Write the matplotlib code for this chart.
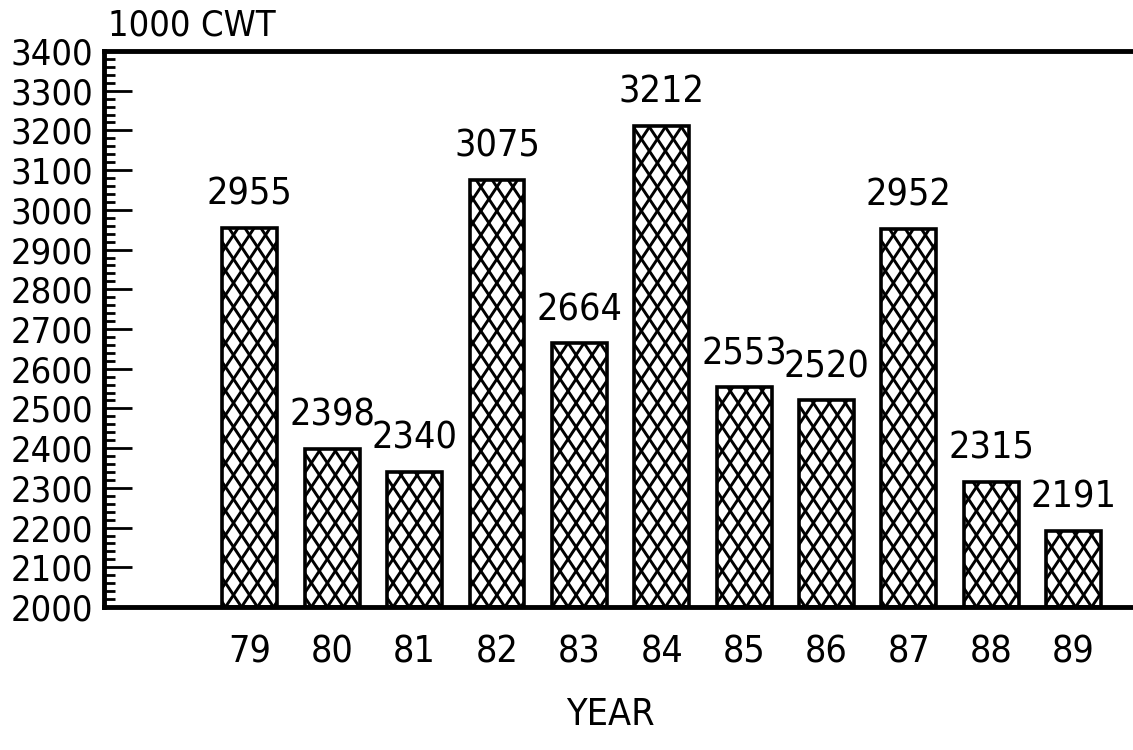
import matplotlib.pyplot as plt
from matplotlib.ticker import MultipleLocator
from matplotlib.lines import Line2D
from matplotlib.transforms import IdentityTransform

years = [79, 80, 81, 82, 83, 84, 85, 86, 87, 88, 89]
values = [2955, 2398, 2340, 3075, 2664, 3212, 2553, 2520, 2952, 2315, 2191]
year_labels = [str(y) for y in years]

# narrow plotter-like lettering
plt.rcParams['font.family'] = ['DejaVu Sans']
plt.rcParams['font.stretch'] = 'condensed'

fig = plt.figure(figsize=(11.33, 7.5), dpi=100)
ax = fig.add_axes([104 / 1133, 1 - 607 / 750, 1 - 104 / 1133, (607 - 51) / 750])

ax.set_xlim(77.23, 89.72)
ax.set_ylim(2000, 3400)

base = 2000
bars = ax.bar(years, [v - base for v in values], bottom=base, width=0.667,
              color='white', edgecolor='black', linewidth=2.6, zorder=3)

# steep cross-hatch (diamonds taller than wide), drawn as clipped lines in pixels
hatch_w, hatch_h = 16.0, 24.0
for rect in bars:
    (x0, y0), (x1, y1) = ax.transData.transform(
        [(rect.get_x(), rect.get_y()), (rect.get_x() + rect.get_width(), rect.get_y() + rect.get_height())])
    run = (y1 - y0) * hatch_w / hatch_h
    k = x0 - run - hatch_w
    while k < x1 + run + hatch_w:
        for sgn in (1, -1):
            ln = Line2D([k, k + sgn * run], [y0, y1], transform=IdentityTransform(),
                        color='black', linewidth=2.1, zorder=2.5)
            ln.set_clip_path(rect)
            fig.add_artist(ln)
        k += hatch_w
    rect.set_facecolor('none')

for x, v in zip(years, values):
    ax.annotate(str(v), (x, v), xytext=(0, 11), textcoords='offset points',
                ha='center', va='bottom', fontsize=27)

ax.set_xticks(years)
ax.set_xticklabels(year_labels)
ax.yaxis.set_major_locator(MultipleLocator(100))
ax.yaxis.set_minor_locator(MultipleLocator(20))

ax.tick_params(axis='y', which='major', direction='in', length=20, width=2,
               labelsize=26, pad=8)
ax.tick_params(axis='y', which='minor', direction='in', length=8, width=2)
ax.tick_params(axis='x', length=0, labelsize=27, pad=20)

ax.spines['right'].set_visible(False)
for s in ['left', 'top', 'bottom']:
    ax.spines[s].set_linewidth(3.5)
    ax.spines[s].set_zorder(4)

fig.text(610 / 1133, 1 - 715 / 750, 'YEAR', fontsize=27, va='center', ha='center')
fig.text(108 / 1133, 1 - 25 / 750, '1000 CWT', fontsize=26, va='center', ha='left')

fig.savefig('out.png', dpi=100)
